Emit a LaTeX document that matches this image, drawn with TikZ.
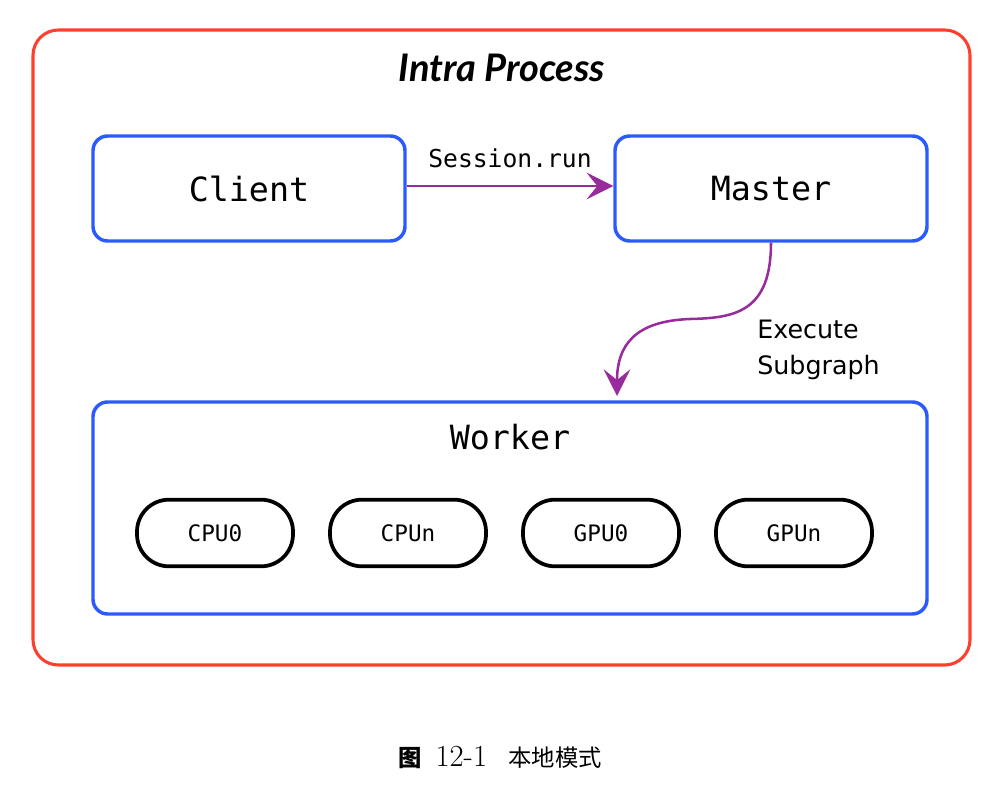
\documentclass[tikz,border=0pt]{standalone}
\usepackage{fontspec}
\setmainfont{Latin Modern Roman}
\setmonofont{DejaVu Sans Mono}
\newfontfamily\titlefont{Lato}
\newfontfamily\labelfont{DejaVu Sans}
\newfontfamily\cjk{Noto Sans CJK SC}
\usetikzlibrary{arrows.meta}
\definecolor{outerred}{HTML}{FF3F2E}
\definecolor{boxblue}{HTML}{2B5BFF}
\definecolor{arrowpurple}{HTML}{992C9C}
\tikzset{
  outerbox/.style={draw=outerred, line width=2.3pt, rounded corners=19pt, minimum width=702.75pt, minimum height=476.25pt, inner sep=0pt},
  bluebox/.style={draw=boxblue, line width=2.6pt, rounded corners=11pt, inner sep=0pt, font=\ttfamily\fontsize{25}{28}\selectfont},
  pill/.style={draw=black, line width=2.8pt, rounded corners=24pt, minimum width=117pt, minimum height=50pt, inner sep=0pt, font=\ttfamily\fontsize{17}{20}\selectfont},
  conn/.style={draw=arrowpurple, line width=1.9pt, -{Stealth[length=20pt, width=20pt, inset=8pt]}},
}
\begin{document}
\begin{tikzpicture}[x=0.75pt, y=-0.75pt]
\useasboundingbox (0,0) rectangle (1000,812);
\node[outerbox] (outer) at (501.5,347.5) {};
\node[font=\titlefont\bfseries\itshape\fontsize{28.5}{32}\selectfont] (title) at (502,68) {Intra Process};
\node[bluebox, minimum width=234pt, minimum height=78.75pt] (client) at (249,188.5) {Client};
\node[bluebox, minimum width=234pt, minimum height=78.75pt] (master) at (771,188.5) {Master};
\node[bluebox, minimum width=625.5pt, minimum height=159pt] (worker) at (510,508) {};
\node[font=\ttfamily\fontsize{25}{28}\selectfont] (workerlabel) at (510,437) {Worker};
\node[pill] (cpu0) at (215,533) {CPU0};
\node[pill] (cpun) at (408,533) {CPUn};
\node[pill] (gpu0) at (601,533) {GPU0};
\node[pill] (gpun) at (794,533) {GPUn};
\draw[conn] (client.east |- 0,186) -- node[above=9pt, font=\ttfamily\fontsize{18.5}{20}\selectfont, text=black] (sessionlabel) {Session.run} (master.west |- 0,186);
\coordinate (mid) at (690,319);
\coordinate (tip) at (617,396);
\draw[conn] (master.south) .. controls (771,312) and (735,318) .. (mid) .. controls (635,321) and (617,345) .. (tip);
\node[anchor=north west, align=left, font=\labelfont\fontsize{19}{27}\selectfont, inner sep=0pt] (execlabel) at (757,320) {Execute\\Subgraph};
\node[inner sep=0pt] (caption) at (500,757) {{\cjk\bfseries\fontsize{17.5}{20}\selectfont 图}\hspace{10.5pt}{\fontsize{23}{24}\selectfont 12-1}\hspace{16pt}{\cjk\fontsize{17.5}{20}\selectfont 本地模式}};
\end{tikzpicture}
\end{document}
